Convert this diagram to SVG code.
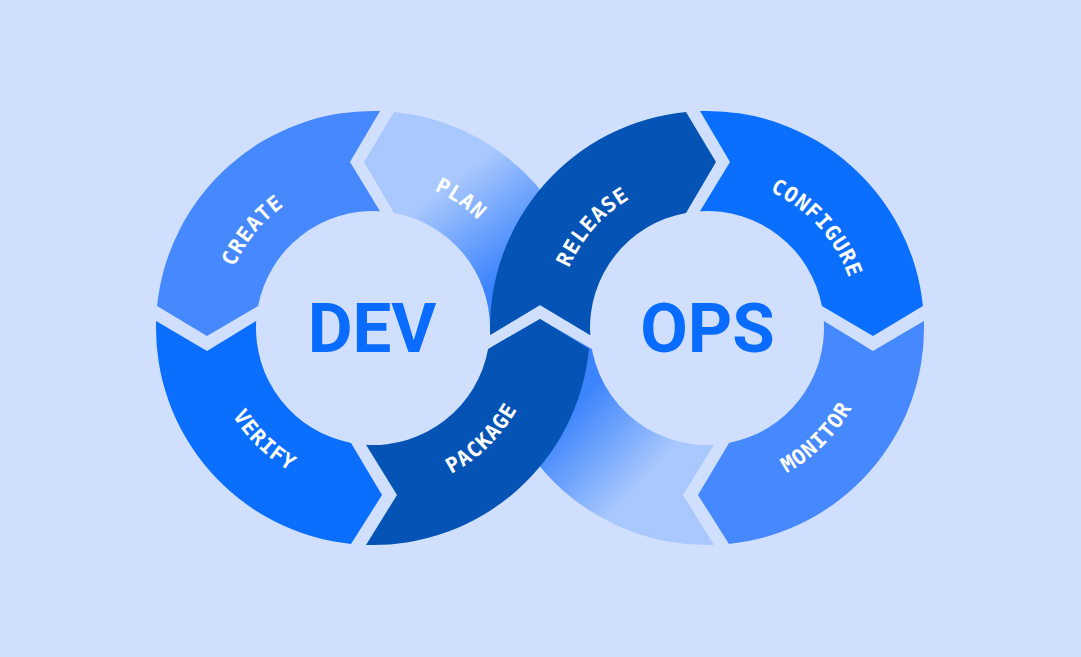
<svg xmlns="http://www.w3.org/2000/svg" width="1081" height="657" viewBox="0 0 1081 657">
  <defs>
    <style>
      .bg { fill: #cfdffd; }
      .mid { fill: #4688fe; }
      .bright { fill: #0a6efe; }
      .dark { fill: #0453b5; }
      .lbl { font-family: "DejaVu Sans Mono", "Liberation Mono", monospace; font-weight: bold; font-size: 21px; letter-spacing: 0.8px; fill: #ffffff; }
      .big { font-family: Roboto, "Liberation Sans", sans-serif; font-weight: bold; font-size: 69px; fill: #0a6cff; }
    </style>
    <linearGradient id="gPlan" gradientUnits="userSpaceOnUse" x1="440" y1="190" x2="505" y2="275">
      <stop offset="0" stop-color="#a9c8fd"/>
      <stop offset="1" stop-color="#3c84fd"/>
    </linearGradient>
    <linearGradient id="gLow" gradientUnits="userSpaceOnUse" x1="640" y1="485" x2="565" y2="415">
      <stop offset="0" stop-color="#a9c8fd"/>
      <stop offset="1" stop-color="#3c84fd"/>
    </linearGradient>
    <path id="pCreate" d="M227.4,369.8 A150.5,150.5 0 0 1 383.6,177.9"/>
    <path id="pPlan" d="M319.5,187.3 A150.5,150.5 0 0 1 523.5,325.9"/>
    <path id="pRelease" d="M560.7,363.4 A150.5,150.5 0 0 1 723.8,178.4"/>
    <path id="pConfigure" d="M687.9,178.7 A150.5,150.5 0 0 1 853.8,361.1"/>
    <path id="pVerify" d="M209.5,302.1 A165.5,165.5 0 0 0 404.6,490.5"/>
    <path id="pPackage" d="M342.8,490.8 A165.5,165.5 0 0 0 536.2,300.7"/>
    <path id="pMonitor" d="M678.3,491.0 A165.5,165.5 0 0 0 870.0,299.3"/>
  </defs>

  <rect class="bg" x="0" y="0" width="1081" height="657"/>

  <g id="plan">
    <path fill="url(#gPlan)" d="M394,112 A217,217 0 0 1 590,328 L490,328 A117,117 0 0 0 394,212.9 L364,162 Z"/>
    <text class="lbl"><textPath href="#pPlan" startOffset="50%" text-anchor="middle">PLAN</textPath></text>
  </g>
  <g id="return">
    <path fill="url(#gLow)" d="M714,544.9 L683,495 L714,444.8 A117,117 0 0 1 590,328 L490,328 A217,217 0 0 0 714,544.9 Z"/>
  </g>
  <polygon class="bg" points="480,341 540,305 600,341 600,353.7 540,319 480,353.7"/>

  <g id="create">
    <path class="mid" d="M380,111.1 L350,162 L380,211.2 A117,117 0 0 0 258.1,306 L207,336 L157.1,306 A217,217 0 0 1 380,111.1 Z"/>
    <text class="lbl"><textPath href="#pCreate" startOffset="50%" text-anchor="middle">CREATE</textPath></text>
  </g>
  <g id="verify">
    <path class="bright" d="M156.1,321 L207,351 L256.2,321 A117,117 0 0 0 351,442.9 L382,495 L351,543.9 A217,217 0 0 1 156.1,321 Z"/>
    <text class="lbl"><textPath href="#pVerify" startOffset="50%" text-anchor="middle">VERIFY</textPath></text>
  </g>
  <g id="package">
    <path class="dark" d="M366,544.9 L397,495 L366,444.8 A117,117 0 0 0 488.1,349 L540,319 L589,349 A217,217 0 0 1 366,544.9 Z"/>
    <text class="lbl"><textPath href="#pPackage" startOffset="50%" text-anchor="middle">PACKAGE</textPath></text>
  </g>
  <g id="release">
    <path class="dark" d="M490.1,335 L540,305 L590.2,335 A117,117 0 0 1 686,212.9 L716,162 L686,112 A217,217 0 0 0 490.1,335 Z"/>
    <text class="lbl"><textPath href="#pRelease" startOffset="50%" text-anchor="middle">RELEASE</textPath></text>
  </g>
  <g id="configure">
    <path class="bright" d="M700,111.1 A217,217 0 0 1 922.9,306 L873,336 L821.9,306 A117,117 0 0 0 700,211.2 L730,162 Z"/>
    <text class="lbl"><textPath href="#pConfigure" startOffset="50%" text-anchor="middle">CONFIGURE</textPath></text>
  </g>
  <g id="monitor">
    <path class="mid" d="M923.9,321 A217,217 0 0 1 729,543.9 L698,495 L729,442.9 A117,117 0 0 0 823.8,321 L873,351 Z"/>
    <text class="lbl"><textPath href="#pMonitor" startOffset="50%" text-anchor="middle">MONITOR</textPath></text>
  </g>

  <g id="dev">
    <text class="big" x="372" y="352" text-anchor="middle">DEV</text>
  </g>
  <g id="ops">
    <text class="big" x="707.5" y="352" text-anchor="middle">OPS</text>
  </g>
</svg>
